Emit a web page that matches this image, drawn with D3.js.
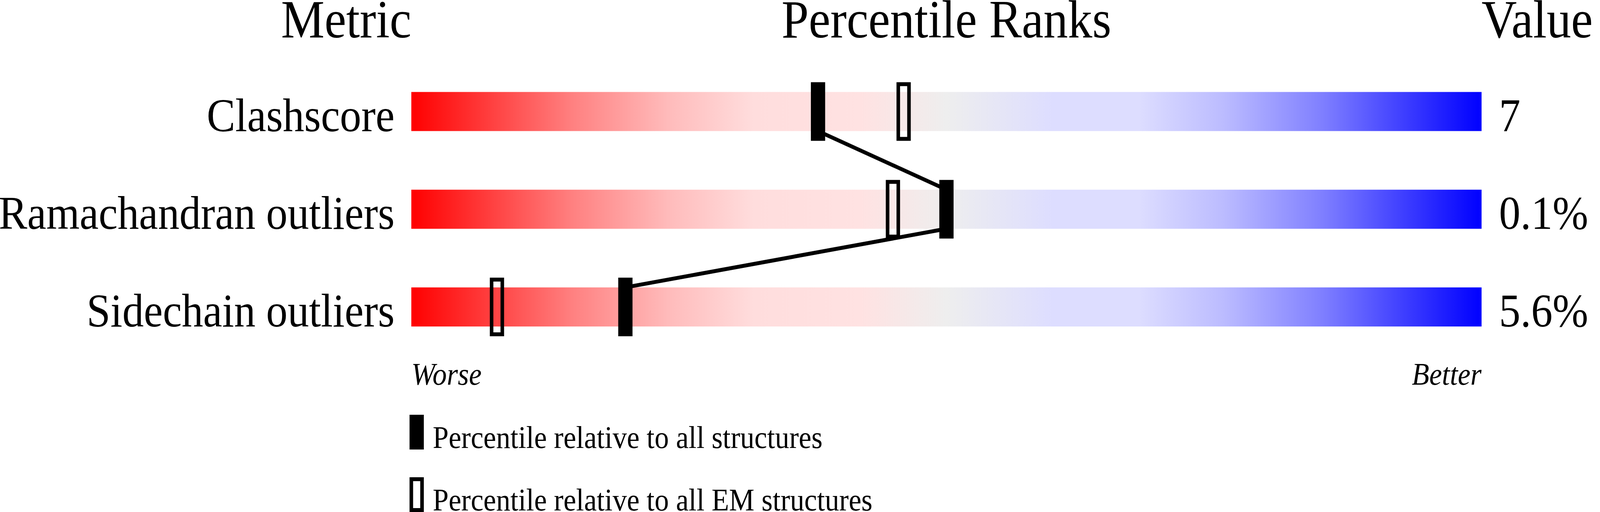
<!DOCTYPE html>
<html>
<head>
<meta charset="utf-8">
<script src="https://cdn.jsdelivr.net/npm/d3@7"></script>
<style>
  html, body { margin: 0; padding: 0; background: #fff; overflow: hidden; }
  svg { display: block; width: 100vw; height: 100vh; }
  text { font-family: "Liberation Serif", "Times New Roman", serif; fill: #000; }
</style>
</head>
<body>
<div class="root"></div>
<script>
const metrics = ['Clashscore', 'Ramachandran outliers', 'Sidechain outliers']
const valueLabels = ['7', '0.1%', '5.6%']
const pctAll = [38, 50, 20]
const pctEM = [46, 45, 8]
const headers = ['Metric', 'Percentile Ranks', 'Value']
const axisEnds = ['Worse', 'Better']
const legendLabels = ['Percentile relative to all structures', 'Percentile relative to all EM structures']

const svgWidth = 4485
    , svgHeight = 1311

// drawn in a fixed 4485x1311 space, stretched to whatever the window is
const svg = d3.select('.root')
              .append('svg')
              .attr('viewBox', `0 0 ${svgWidth} ${svgHeight}`)
              .attr('preserveAspectRatio', 'none')

const scaleX = d3.scaleLinear()
                 .domain([0, 100])
                 .range([1153, 4153])

const scaleY = d3.scaleBand()
                 .domain(metrics)
                 .range([235.5, 836])
                 .paddingInner(0.6)
                 .paddingOuter(0)

const barH = scaleY.bandwidth()

// red -> pink -> grey -> lavender -> blue, eased at both ends
const grad = svg.append('defs')
                .append('linearGradient')
                .attr('id', 'slider')
grad.selectAll('stop')
    .data([[0, '#ff0000'], [0.15, '#ff8080'], [0.24, '#ffbbbb'], [0.32, '#ffdddd'],
           [0.42, '#ffe2e2'], [0.5, '#eeeeee'], [0.6, '#ddddff'], [0.68, '#ddddff'],
           [0.76, '#bbbbff'], [0.85, '#8080ff'], [1, '#0000ff']])
    .enter()
    .append('stop')
    .attr('offset', d => d[0])
    .attr('stop-color', d => d[1])

// headers
svg.append('g')
   .selectAll('text')
   .data(headers)
   .enter()
   .append('text')
   .attr('x', (d, i) => [scaleX(0), (scaleX(0) + scaleX(100)) / 2, scaleX(100)][i])
   .attr('y', 96)
   .attr('font-size', 137)
   .attr('text-anchor', (d, i) => ['end', 'middle', 'start'][i])
   .text(d => d)

const rows = svg.append('g')
                .selectAll('g')
                .data(metrics)
                .enter()
                .append('g')

rows.append('rect')
    .attr('x', scaleX(0))
    .attr('y', d => scaleY(d))
    .attr('width', scaleX(100) - scaleX(0))
    .attr('height', barH)
    .attr('fill', 'url(#slider)')

rows.append('text')
    .attr('x', scaleX(0) - 47)
    .attr('y', d => scaleY(d) + barH)
    .attr('font-size', 120)
    .attr('text-anchor', 'end')
    .text(d => d)

rows.append('text')
    .attr('x', scaleX(100) + 49)
    .attr('y', d => scaleY(d) + barH)
    .attr('font-size', 120)
    .text((d, i) => valueLabels[i])

// connecting line between "all structures" markers
const links = d3.pairs(metrics.map((m, i) => ({ m, p: pctAll[i] })))
svg.append('g')
   .selectAll('line')
   .data(links)
   .enter()
   .append('line')
   .attr('x1', d => scaleX(d[0].p))
   .attr('y1', d => scaleY(d[0].m) + barH)
   .attr('x2', d => scaleX(d[1].p))
   .attr('y2', d => scaleY(d[1].m))
   .attr('stroke', '#000')
   .attr('stroke-width', 10)

rows.append('rect')
    .attr('x', (d, i) => scaleX(pctEM[i]) - 15)
    .attr('y', d => scaleY(d) - 20)
    .attr('width', 30)
    .attr('height', barH + 40)
    .attr('fill', 'none')
    .attr('stroke', '#000')
    .attr('stroke-width', 10)

rows.append('rect')
    .attr('x', (d, i) => scaleX(pctAll[i]) - 20)
    .attr('y', d => scaleY(d) - 25)
    .attr('width', 40)
    .attr('height', barH + 50)
    .attr('fill', '#000')

// worse / better
svg.append('g')
   .selectAll('text')
   .data(axisEnds)
   .enter()
   .append('text')
   .attr('x', (d, i) => scaleX(i * 100))
   .attr('y', 985)
   .attr('font-size', 80)
   .attr('font-style', 'italic')
   .attr('text-anchor', (d, i) => i ? 'end' : 'start')
   .text(d => d)

// legend
const legend = svg.append('g')
                  .selectAll('g')
                  .data(legendLabels)
                  .enter()
                  .append('g')
                  .attr('transform', (d, i) => `translate(1148, ${1062 + i * 160})`)

legend.append('rect')
      .attr('x', (d, i) => i ? 5 : 0)
      .attr('y', (d, i) => i ? 5 : 0)
      .attr('width', (d, i) => i ? 30 : 40)
      .attr('height', (d, i) => i ? 79 : 89)
      .attr('fill', (d, i) => i ? 'none' : '#000')
      .attr('stroke', (d, i) => i ? '#000' : 'none')
      .attr('stroke-width', 10)

legend.append('text')
      .attr('x', 65)
      .attr('y', 85)
      .attr('font-size', 80)
      .text(d => d)
</script>
</body>
</html>
